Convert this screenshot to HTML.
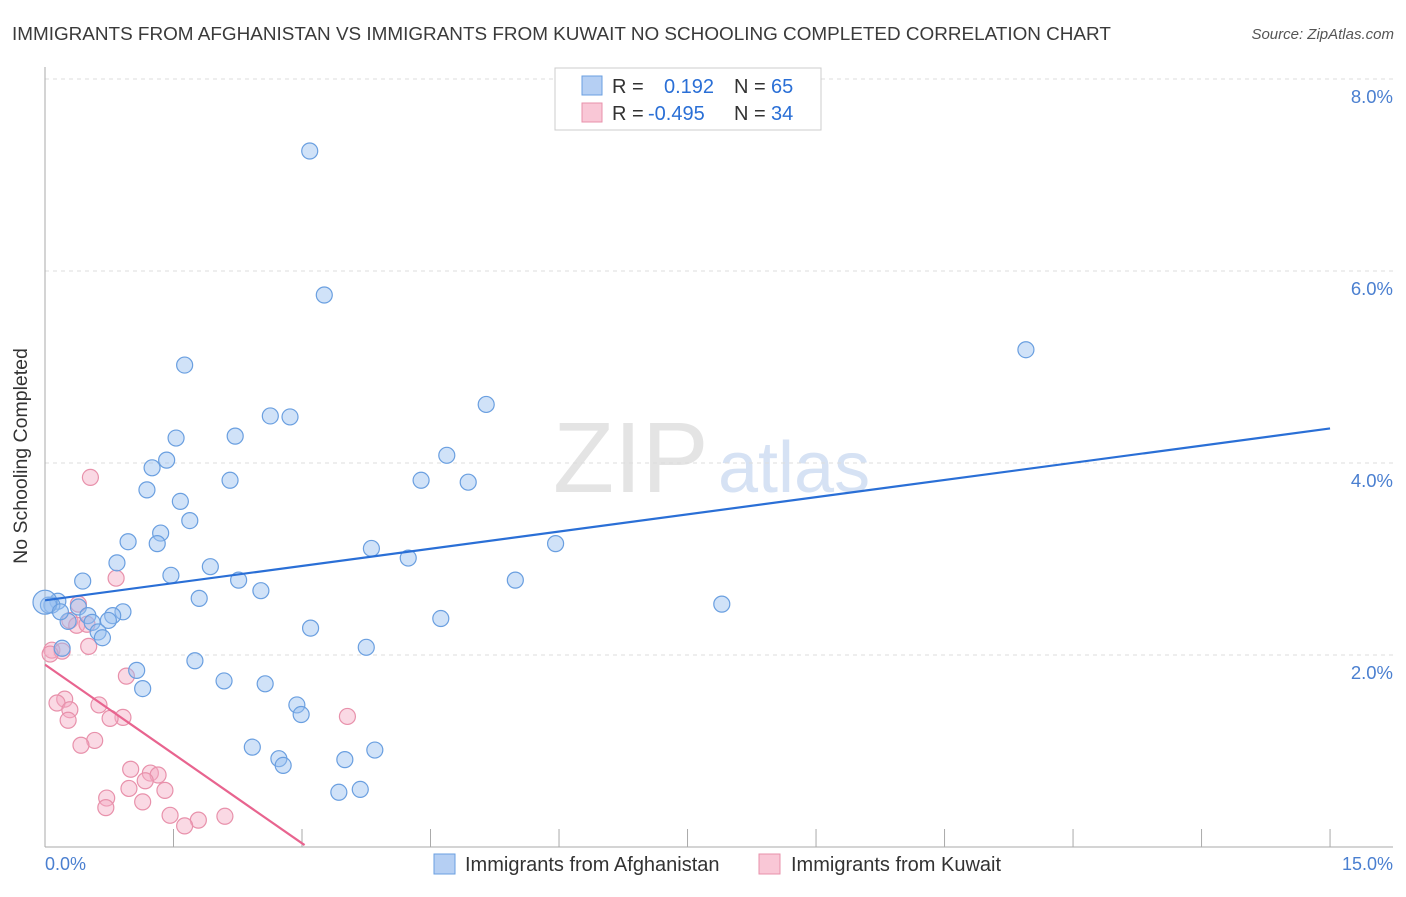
<!DOCTYPE html>
<html><head><meta charset="utf-8"><style>
body{margin:0;background:#fff;font-family:"Liberation Sans",sans-serif;}
svg text{font-family:"Liberation Sans",sans-serif;}
</style></head><body>
<svg id="c" width="1406" height="892">
<text x="12" y="40" font-size="18.9" fill="#3a3a3a">IMMIGRANTS FROM AFGHANISTAN VS IMMIGRANTS FROM KUWAIT NO SCHOOLING COMPLETED CORRELATION CHART</text>
<text x="1394" y="39" font-size="15" fill="#555" font-style="italic" text-anchor="end">Source: ZipAtlas.com</text>
<text x="553" y="492" font-size="100" fill="#e4e4e4" font-family="Liberation Serif">ZIP</text>
<text x="718" y="492" font-size="72" fill="#d6e2f4">atlas</text>
<g id="grid"></g>
<line x1="45" y1="67" x2="45" y2="847" stroke="#aaa"/>
<line x1="45" y1="847" x2="1393" y2="847" stroke="#aaa"/>
<g id="pts"></g>
<text x="27" y="456" font-size="19.5" fill="#333" transform="rotate(-90 27 456)" text-anchor="middle">No Schooling Completed</text>
<text x="45" y="870" font-size="18" fill="#4a7fd0">0.0%</text>
<text x="1393" y="870" font-size="18" fill="#4a7fd0" text-anchor="end">15.0%</text>
<g>
<rect x="555" y="68" width="266" height="62" fill="#fff" stroke="#ccc"/>
<rect x="582" y="76" width="20" height="19" fill="#b5cff3" stroke="#6a9fe0"/>
<rect x="582" y="103" width="20" height="19" fill="#f9c7d6" stroke="#e891ab"/>
<text x="612" y="93" font-size="20" fill="#333">R =</text>
<text x="664" y="93" font-size="20" fill="#2a6fd6">0.192</text>
<text x="734" y="93" font-size="20" fill="#333">N =</text>
<text x="771" y="93" font-size="20" fill="#2a6fd6">65</text>
<text x="612" y="120" font-size="20" fill="#333">R =</text>
<text x="648" y="120" font-size="20" fill="#2a6fd6">-0.495</text>
<text x="734" y="120" font-size="20" fill="#333">N =</text>
<text x="771" y="120" font-size="20" fill="#2a6fd6">34</text>
</g>
<g>
<rect x="434" y="854" width="21" height="20" fill="#b5cff3" stroke="#6a9fe0"/>
<text x="465" y="871" font-size="20" fill="#333">Immigrants from Afghanistan</text>
<rect x="759" y="854" width="21" height="20" fill="#f9c7d6" stroke="#e891ab"/>
<text x="791" y="871" font-size="20" fill="#333">Immigrants from Kuwait</text>
</g>
</svg>
<script>
const yTicks=[2,4,6,8];
const yTickLabels=["2.0%","4.0%","6.0%","8.0%"];
const xTicks=[1.5,3,4.5,6,7.5,9,10.5,12,13.5,15];
const blueX=[3.09,3.26,11.45,1.63,5.15,2.63,2.86,1.53,2.22,4.69,1.42,1.25,4.39,2.16,4.94,1.19,1.58,1.69,1.35,0.97,1.31,5.96,3.81,4.24,0.84,1.93,1.47,0.44,2.26,5.49,2.52,1.80,7.90,0.15,0.08,0.39,0.50,0.91,0.79,0.74,0.27,0.55,4.62,0.62,0.67,3.10,0.20,3.75,1.75,1.07,1.14,2.09,2.57,2.94,2.99,2.42,2.73,2.78,3.85,3.50,3.43,3.68,0.04,0.0,0.18];
const blueY=[7.25,5.75,5.18,5.02,4.61,4.49,4.48,4.26,4.28,4.08,4.03,3.95,3.82,3.82,3.80,3.72,3.60,3.40,3.27,3.18,3.16,3.16,3.11,3.01,2.96,2.92,2.83,2.77,2.78,2.78,2.67,2.59,2.53,2.56,2.52,2.50,2.41,2.45,2.41,2.36,2.35,2.34,2.38,2.24,2.18,2.28,2.07,2.08,1.94,1.84,1.65,1.73,1.70,1.48,1.38,1.04,0.92,0.85,1.01,0.91,0.57,0.60,2.52,2.55,2.45];
const pinkX=[0.53,0.83,0.39,0.29,0.37,0.49,0.51,0.08,0.20,0.06,0.95,0.23,0.14,0.29,0.63,0.27,0.91,0.76,0.58,0.42,3.53,1.00,1.23,1.32,1.17,0.98,1.40,0.72,0.71,1.14,1.46,1.79,2.10,1.63];
const pinkY=[3.85,2.80,2.53,2.36,2.31,2.32,2.09,2.05,2.04,2.01,1.78,1.54,1.50,1.43,1.48,1.32,1.35,1.34,1.11,1.06,1.36,0.81,0.77,0.75,0.69,0.61,0.59,0.51,0.41,0.47,0.33,0.28,0.32,0.22];
const blueLine=[2.57,4.36];
const pinkLine=[1.90,0.02,3.03];
const X=v=>45+v*85.67, Y=v=>847-v*96;
const NS="http://www.w3.org/2000/svg";
function mk(t,a,p){const e=document.createElementNS(NS,t);for(const k in a)e.setAttribute(k,a[k]);p.appendChild(e);return e;}
const g=document.getElementById('grid');
yTicks.forEach((t,i)=>{
 const l=mk('line',{x1:45,x2:1393,y1:Y(t),y2:Y(t),stroke:'#ddd','stroke-dasharray':'4,4'},g);
 
 
 const tx=mk('text',{x:1393,y:Y(t)+24,'font-size':18.5,fill:'#4a7fd0','text-anchor':'end'},g);
 tx.textContent=yTickLabels[i];
 
 
});
xTicks.forEach(t=>{
 const l=mk('line',{x1:X(t),x2:X(t),y1:829,y2:847,stroke:'#aaa'},g);
 
 
});
const p=document.getElementById('pts');
pinkX.forEach((x,i)=>{
 const c=mk('circle',{cx:X(x),cy:Y(pinkY[i]),r:8,fill:'rgba(245,170,195,0.45)',stroke:'#e891ab','stroke-width':1.2},p);
 
 
});
blueX.forEach((x,i)=>{
 const c=mk('circle',{cx:X(x),cy:Y(blueY[i]),r:i==63?12:8,fill:'rgba(150,190,240,0.45)',stroke:'#6a9fe0','stroke-width':1.2},p);
 
 
});
const bl=mk('line',{x1:X(0),y1:Y(blueLine[0]),x2:X(15),y2:Y(blueLine[1]),stroke:'#2a6fd6','stroke-width':2.2},p);


const pl=mk('line',{x1:X(0),y1:Y(pinkLine[0]),x2:X(pinkLine[2]),y2:Y(pinkLine[1]),stroke:'#e8648f','stroke-width':2.2},p);


</script>
</body></html>
